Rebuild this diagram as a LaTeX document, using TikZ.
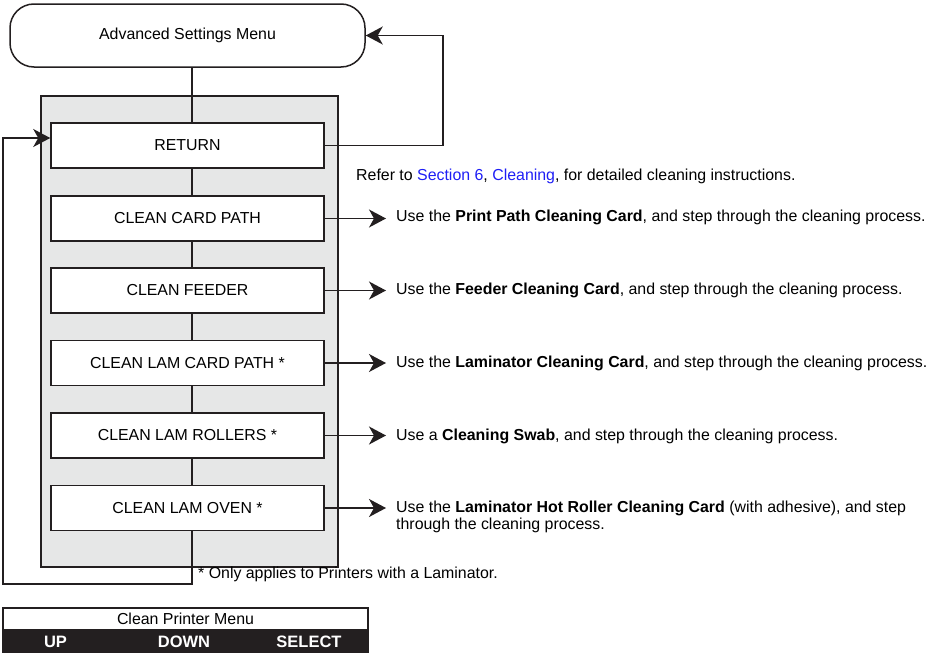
\documentclass[tikz,border=0pt]{standalone}
\usepackage{fontspec}
\setmainfont{Liberation Sans}
\usetikzlibrary{arrows.meta}
\definecolor{ink}{HTML}{231F20}
\definecolor{panelgray}{HTML}{E6E7E7}
\definecolor{linkblue}{RGB}{30,30,245}
\tikzset{
  menubox/.style={draw=ink, line width=1.5pt, fill=white, minimum width=273pt, minimum height=45pt, inner sep=0pt, font=\fontsize{15.9}{17}\selectfont},
  conn/.style={draw=ink, line width=1.4pt},
  arr/.style={conn, -{Stealth[length=17pt, width=18pt, inset=5pt]}},
  desc/.style={anchor=base west, inner sep=0pt, align=left, font=\fontsize{15.9}{17}\selectfont, text=black},
}
\begin{document}
\begin{tikzpicture}[x=1pt,y=-1pt]
\useasboundingbox (0,0) rectangle (931,656);
% panel
\node[draw=ink, line width=1.5pt, fill=panelgray, minimum width=297pt, minimum height=471pt, inner sep=0pt] (panel) at (189.5,331.5) {};
% top menu
\node[draw=ink, line width=1.5pt, fill=white, rounded corners=24pt, minimum width=355pt, minimum height=63pt, inner sep=0pt, font=\fontsize{15.9}{17}\selectfont] (top) at (187.5,35.5) {Advanced Settings Menu};
\coordinate (spine) at (192,0);
% boxes
\node[menubox] (ret) at (187.5,145.5) {RETURN};
\node[menubox] (ccp) at (187.5,218.5) {CLEAN CARD PATH};
\node[menubox] (cf) at (187.5,290.5) {CLEAN FEEDER};
\node[menubox] (clcp) at (187.5,363) {CLEAN LAM CARD PATH *};
\node[menubox] (clr) at (187.5,435.5) {CLEAN LAM ROLLERS *};
\node[menubox] (clo) at (187.5,508) {CLEAN LAM OVEN *};
% spine connectors
\draw[conn] (top.south -| spine) -- (ret.north -| spine);
\draw[conn] (ret.south -| spine) -- (ccp.north -| spine);
\draw[conn] (ccp.south -| spine) -- (cf.north -| spine);
\draw[conn] (cf.south -| spine) -- (clcp.north -| spine);
\draw[conn] (clcp.south -| spine) -- (clr.north -| spine);
\draw[conn] (clr.south -| spine) -- (clo.north -| spine);
% loop back to RETURN
\coordinate (lb1) at (192,584);
\coordinate (lb2) at (3,584);
\coordinate (lb3) at (3,138);
\draw[arr] (clo.south -| spine) -- (lb1) -- (lb2) -- (lb3) -- (ret.west |- lb3);
% return to top menu
\coordinate (rt1) at (443,145.5);
\coordinate (rt2) at (443,35.5);
\draw[arr] (ret.east) -- (rt1) -- (rt2) -- (top.east);
% descriptions
\node[desc] (refer) at (356,180.6) {Refer to \textcolor{linkblue}{Section 6}, \textcolor{linkblue}{Cleaning}, for detailed cleaning instructions.};
\node[desc] (d1) at (396,221.8) {Use the \textbf{Print Path Cleaning Card}, and step through the cleaning process.};
\node[desc] (d2) at (396,294) {Use the \textbf{Feeder Cleaning Card}, and step through the cleaning process.};
\node[desc] (d3) at (396,367) {Use the \textbf{Laminator Cleaning Card}, and step through the cleaning process.};
\node[desc] (d4) at (396,440.8) {Use a \textbf{Cleaning Swab}, and step through the cleaning process.};
\node[desc] (d5) at (396,529.8) {Use the \textbf{Laminator Hot Roller Cleaning Card} (with adhesive), and step\\through the cleaning process.};
\draw[arr] (ccp.east) -- (ccp.east -| 386,0);
\draw[arr] (cf.east) -- (cf.east -| 386,0);
\draw[arr] (clcp.east) -- (clcp.east -| 386,0);
\draw[arr] (clr.east) -- (clr.east -| 386,0);
\draw[arr] (clo.east) -- (clo.east -| 386,0);
\node[desc] (foot) at (198,578.6) {* Only applies to Printers with a Laminator.};
% bottom menu
\node[draw=ink, line width=1.3pt, fill=white, minimum width=365pt, minimum height=22pt, inner sep=0pt, font=\fontsize{15.9}{17}\selectfont] (cpm) at (185.5,619) {Clean Printer Menu};
\node[draw=ink, line width=1.3pt, fill=ink, minimum width=365pt, minimum height=21pt, inner sep=0pt, anchor=north] (bar) at (cpm.south) {};
\node[font=\fontsize{16.5}{17}\selectfont\bfseries, text=white, inner sep=0pt] (up) at (55.5,641.5) {UP};
\node[font=\fontsize{16.5}{17}\selectfont\bfseries, text=white, inner sep=0pt] (down) at (184,641.5) {DOWN};
\node[font=\fontsize{16.5}{17}\selectfont\bfseries, text=white, inner sep=0pt] (select) at (309,641.5) {SELECT};
\end{tikzpicture}
\end{document}
